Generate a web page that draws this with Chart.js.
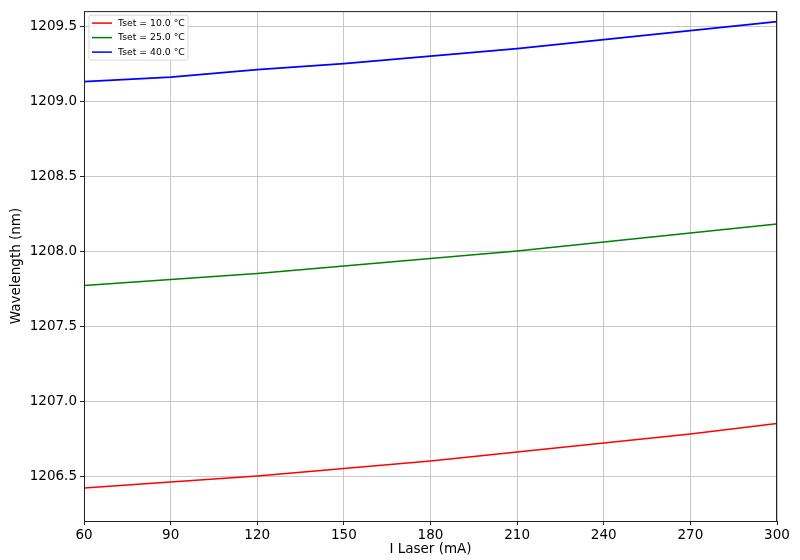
<!DOCTYPE html>
<html>
<head>
<meta charset="utf-8">
<script src="https://cdn.jsdelivr.net/npm/chart.js@4"></script>
<style>
  html, body { margin: 0; padding: 0; background: #fff; }
  #wrap { width: 800px; height: 560px; }
</style>
</head>
<body>
<div id="wrap"><canvas id="chart" width="800" height="560"></canvas></div>
<script>
// laser current (mA)
const currents = [60, 90, 120, 150, 180, 210, 240, 270, 300];
// wavelength (nm) per set temperature
const wl10 = [1206.42, 1206.46, 1206.50, 1206.55, 1206.60, 1206.66, 1206.72, 1206.78, 1206.85];
const wl25 = [1207.77, 1207.81, 1207.85, 1207.90, 1207.95, 1208.00, 1208.06, 1208.12, 1208.18];
const wl40 = [1209.13, 1209.16, 1209.21, 1209.25, 1209.30, 1209.35, 1209.41, 1209.47, 1209.53];
const seriesLabels = ['Tset = 10.0 °C', 'Tset = 25.0 °C', 'Tset = 40.0 °C'];
const yTicks = [1206.5, 1207.0, 1207.5, 1208.0, 1208.5, 1209.0, 1209.5];
const xTicks = [60, 90, 120, 150, 180, 210, 240, 270, 300];

const FONT = 'DejaVu Sans';
const colors = ['#ff0000', '#008000', '#0000ff'];

function toPoints(ys) {
  return currents.map((x, i) => ({ x: x, y: ys[i] }));
}

// box around the plot area plus an in-plot legend, matplotlib style
const framePlugin = {
  id: 'frame',
  afterDraw(chart) {
    const { ctx, chartArea: a } = chart;
    ctx.save();
    ctx.strokeStyle = '#222';
    ctx.lineWidth = 1;
    ctx.strokeRect(a.left + 0.5, a.top + 0.5, a.right - a.left - 1, a.bottom - a.top);

    // legend
    const bx = a.left + 5, by = a.top + 4, bw = 99, bh = 45;
    ctx.fillStyle = 'rgba(255,255,255,0.85)';
    ctx.strokeStyle = '#d9d9d9';
    ctx.beginPath();
    ctx.roundRect(bx, by, bw, bh, 2);
    ctx.fill();
    ctx.stroke();
    ctx.font = '9.3px "' + FONT + '"';
    ctx.textBaseline = 'middle';
    chart.data.datasets.forEach((ds, i) => {
      const ry = by + 8 + i * 14.5;
      ctx.strokeStyle = ds.borderColor;
      ctx.lineWidth = 1.5;
      ctx.beginPath();
      ctx.moveTo(bx + 3, ry);
      ctx.lineTo(bx + 23, ry);
      ctx.stroke();
      ctx.fillStyle = '#000';
      ctx.fillText(ds.label, bx + 29, ry);
    });
    ctx.restore();
  }
};

const ctx = document.getElementById('chart').getContext('2d');
new Chart(ctx, {
  type: 'line',
  data: {
    datasets: [wl10, wl25, wl40].map((ys, i) => ({
      label: seriesLabels[i],
      data: toPoints(ys),
      borderColor: colors[i],
      backgroundColor: colors[i],
      borderWidth: 1.6,
      pointRadius: 0,
      fill: false,
      tension: 0
    }))
  },
  options: {
    responsive: false,
    animation: false,
    layout: { padding: { left: 0, top: 11, right: 23, bottom: 0 } },
    plugins: {
      legend: { display: false },
      tooltip: { enabled: false }
    },
    scales: {
      x: {
        type: 'linear',
        min: 60,
        max: 300,
        afterBuildTicks: s => { s.ticks = xTicks.map(v => ({ value: v })); },
        afterFit: s => { s.height = 39; },
        grid: { color: '#c8c8c8', lineWidth: 1, tickLength: 4, tickColor: '#222' },
        border: { display: false },
        ticks: { color: '#000', font: { family: FONT, size: 13.5 }, padding: 2, maxRotation: 0 },
        title: { display: true, text: 'I Laser (mA)', color: '#000', font: { family: FONT, size: 13.5 }, padding: { top: 0, bottom: 2 } }
      },
      y: {
        min: 1206.2,
        max: 1209.6,
        afterBuildTicks: s => { s.ticks = yTicks.map(v => ({ value: v })); },
        afterFit: s => { s.width = 84; },
        grid: { color: '#c8c8c8', lineWidth: 1, tickLength: 4, tickColor: '#222' },
        border: { display: false },
        ticks: { color: '#000', font: { family: FONT, size: 13.5 }, padding: 3, callback: v => v.toFixed(1) },
        title: { display: true, text: 'Wavelength (nm)', color: '#000', font: { family: FONT, size: 13.5 }, padding: { top: 8, bottom: 4 } }
      }
    }
  },
  plugins: [framePlugin]
});
</script>
</body>
</html>
